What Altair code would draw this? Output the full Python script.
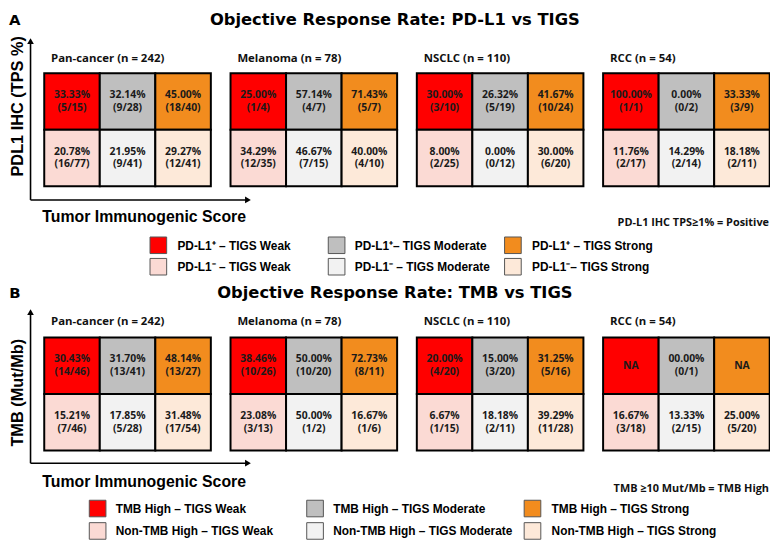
import altair as alt
import pandas as pd

# ---------------- data ----------------
cancers = ["Pan-cancer (n = 242)", "Melanoma (n = 78)", "NSCLC (n = 110)", "RCC (n = 54)"]
tigs_levels = ["Weak", "Moderate", "Strong"]

# Panel A: PD-L1 vs TIGS  (order: per cancer -> Weak, Moderate, Strong)
a_pos_rate = ["33.33%", "32.14%", "45.00%", "25.00%", "57.14%", "71.43%",
              "30.00%", "26.32%", "41.67%", "100.00%", "0.00%", "33.33%"]
a_pos_frac = ["(5/15)", "(9/28)", "(18/40)", "(1/4)", "(4/7)", "(5/7)",
              "(3/10)", "(5/19)", "(10/24)", "(1/1)", "(0/2)", "(3/9)"]
a_neg_rate = ["20.78%", "21.95%", "29.27%", "34.29%", "46.67%", "40.00%",
              "8.00%", "0.00%", "30.00%", "11.76%", "14.29%", "18.18%"]
a_neg_frac = ["(16/77)", "(9/41)", "(12/41)", "(12/35)", "(7/15)", "(4/10)",
              "(2/25)", "(0/12)", "(6/20)", "(2/17)", "(2/14)", "(2/11)"]

# Panel B: TMB vs TIGS
b_pos_rate = ["30.43%", "31.70%", "48.14%", "38.46%", "50.00%", "72.73%",
              "20.00%", "15.00%", "31.25%", "NA", "00.00%", "NA"]
b_pos_frac = ["(14/46)", "(13/41)", "(13/27)", "(10/26)", "(10/20)", "(8/11)",
              "(4/20)", "(3/20)", "(5/16)", "", "(0/1)", ""]
b_neg_rate = ["15.21%", "17.85%", "31.48%", "23.08%", "50.00%", "16.67%",
              "6.67%", "18.18%", "39.29%", "16.67%", "13.33%", "25.00%"]
b_neg_frac = ["(7/46)", "(5/28)", "(17/54)", "(3/13)", "(1/2)", "(1/6)",
              "(1/15)", "(2/11)", "(11/28)", "(3/18)", "(2/15)", "(5/20)"]

section_letters = ["A", "B"]
section_titles = ["Objective Response Rate: PD-L1 vs TIGS", "Objective Response Rate: TMB vs TIGS"]
y_titles = ["PDL1 IHC  (TPS %)", "TMB (Mut/Mb)"]
x_title = "Tumor Immunogenic Score"
notes = ["PD-L1 IHC TPS\u22651% = Positive", "TMB \u226510 Mut/Mb = TMB High"]
legend_a = ["PD-L1\u207a \u2013 TIGS Weak", "PD-L1\u207a\u2013 TIGS Moderate", "PD-L1\u207a \u2013 TIGS Strong",
            "PD-L1\u207b \u2013 TIGS Weak", "PD-L1\u207b  \u2013 TIGS Moderate", "PD-L1\u207b\u2013 TIGS Strong"]
legend_b = ["TMB High \u2013 TIGS Weak", "TMB High \u2013 TIGS Moderate", "TMB High \u2013 TIGS Strong",
            "Non-TMB High \u2013 TIGS Weak", "Non-TMB High \u2013 TIGS Moderate", "Non-TMB High \u2013 TIGS Strong"]
high_colors = ["#FF0000", "#BFBFBF", "#F28C1E"]
low_colors = ["#FBDAD4", "#F2F2F2", "#FDE9D9"]

# ---------------- layout (reference pixel space) ----------------
W, H = 770, 535
RW, RH = 778, 543
GX0, PITCH, CW, CH = 37, 190.2, 56.7, 58
sections = [
    dict(grid_top=64, title_y=9, ptitle_y=49, tip=28, base=194, ylab=170, xt_y=212, note_y=218,
         sw_x=[145, 327, 507], tx_x=[173, 354, 535], lg_y=[232, 254],
         data=(a_pos_rate, a_pos_frac, a_neg_rate, a_neg_frac), legend=legend_a),
    dict(grid_top=335, title_y=290, ptitle_y=319, tip=306, base=464, ylab=447, xt_y=483, note_y=490,
         sw_x=[83, 305, 527], tx_x=[110, 332, 555], lg_y=[502, 525],
         data=(b_pos_rate, b_pos_frac, b_neg_rate, b_neg_frac), legend=legend_b),
]

cells, ctext, ptitles, stitles, letters, ylabs, xlabs, nts = [], [], [], [], [], [], [], []
rules, heads, swatches, ltext = [], [], [], []
for s, sec in enumerate(sections):
    pr, pf, nr, nf = sec["data"]
    for k, cname in enumerate(cancers):
        x0 = GX0 + PITCH * k
        ptitles.append(dict(x=x0 + 7, y=sec["ptitle_y"], t=cname))
        for j, lvl in enumerate(tigs_levels):
            idx = 3 * k + j
            for r, (rates, fracs, cols) in enumerate([(pr, pf, high_colors), (nr, nf, low_colors)]):
                x = x0 + CW * j
                y = sec["grid_top"] + CH * r
                cells.append(dict(x=x, x2=x + CW, y=y, y2=y + CH, c=cols[j]))
                cx, cy = x + CW / 2, y + CH / 2
                if fracs[idx]:
                    ctext.append(dict(x=cx, y=cy - 6.5, t=rates[idx]))
                    ctext.append(dict(x=cx, y=cy + 6.5, t=fracs[idx]))
                else:
                    ctext.append(dict(x=cx, y=cy, t=rates[idx]))
    stitles.append(dict(x=395, y=sec["title_y"], t=section_titles[s]))
    letters.append(dict(x=7, y=sec["title_y"], t=section_letters[s]))
    ylabs.append(dict(x=10, y=sec["ylab"], t=y_titles[s]))
    xlabs.append(dict(x=35, y=sec["xt_y"], t=x_title))
    nts.append(dict(x=777, y=sec["note_y"], t=notes[s]))
    rules.append(dict(x=23, x2=23, y=sec["tip"] + 4, y2=sec["base"]))
    rules.append(dict(x=23, x2=244, y=sec["base"], y2=sec["base"]))
    heads.append(dict(x=23, y=sec["tip"] + 3, shape="triangle-up"))
    heads.append(dict(x=245, y=sec["base"], shape="triangle-right"))
    for i, lab in enumerate(sec["legend"]):
        row, col = divmod(i, 3)
        sx, sy = sec["sw_x"][col], sec["lg_y"][row]
        swatches.append(dict(x=sx, x2=sx + 17, y=sy, y2=sy + 17,
                             c=(high_colors if row == 0 else low_colors)[col]))
        ltext.append(dict(x=sec["tx_x"][col], y=sy + 9, t=lab))

X = alt.Scale(domain=[0, RW], range=[0, W], nice=False, zero=False)
Y = alt.Scale(domain=[0, RH], range=[0, H], nice=False, zero=False)


def textlayer(rows, **kw):
    return alt.Chart(pd.DataFrame(rows)).mark_text(**kw).encode(
        x=alt.X("x:Q", scale=X, axis=None), y=alt.Y("y:Q", scale=Y, axis=None), text="t:N")


cell_layer = alt.Chart(pd.DataFrame(cells)).mark_rect(stroke="black", strokeWidth=2).encode(
    x=alt.X("x:Q", scale=X, axis=None), x2="x2:Q",
    y=alt.Y("y:Q", scale=Y, axis=None), y2="y2:Q",
    color=alt.Color("c:N", scale=None))

swatch_layer = alt.Chart(pd.DataFrame(swatches)).mark_rect(stroke="#555555", strokeWidth=1).encode(
    x=alt.X("x:Q", scale=X, axis=None), x2="x2:Q",
    y=alt.Y("y:Q", scale=Y, axis=None), y2="y2:Q",
    color=alt.Color("c:N", scale=None))

rule_layer = alt.Chart(pd.DataFrame(rules)).mark_rule(color="black", strokeWidth=1.6).encode(
    x=alt.X("x:Q", scale=X, axis=None), x2="x2:Q",
    y=alt.Y("y:Q", scale=Y, axis=None), y2="y2:Q")

head_layer = alt.Chart(pd.DataFrame(heads)).mark_point(filled=True, color="black", size=45, opacity=1).encode(
    x=alt.X("x:Q", scale=X, axis=None), y=alt.Y("y:Q", scale=Y, axis=None),
    shape=alt.Shape("shape:N", scale=None))

cell_text = textlayer(ctext, font="Open Sans", fontWeight="bold", fontSize=10.5, color="#1a1a1a",
                      align="center", baseline="middle")
ptitle_text = textlayer(ptitles, font="Open Sans", fontWeight="bold", fontSize=11.5, color="#111111",
                        align="left", baseline="middle")
stitle_text = textlayer(stitles, font="DejaVu Sans", fontWeight="bold", fontSize=16.5, color="#000000",
                        align="center", baseline="middle")
letter_text = textlayer(letters, font="DejaVu Sans", fontWeight="bold", fontSize=15, color="#000000",
                        align="center", baseline="middle")
ylab_text = textlayer(ylabs, font="Liberation Sans", fontWeight="bold", fontSize=16.5, color="#000000",
                      align="left", baseline="middle", angle=270)
xlab_text = textlayer(xlabs, font="Liberation Sans", fontWeight="bold", fontSize=16, color="#000000",
                      align="left", baseline="middle")
note_text = textlayer(nts, font="Open Sans", fontWeight="bold", fontSize=11, color="#111111",
                      align="right", baseline="middle")
legend_text = textlayer(ltext, font="Liberation Sans", fontWeight="bold", fontSize=12, color="#000000",
                        align="left", baseline="middle")

chart = alt.layer(
    cell_layer, swatch_layer, rule_layer, head_layer,
    cell_text, ptitle_text, stitle_text, letter_text, ylab_text, xlab_text, note_text, legend_text,
).properties(
    width=W, height=H, padding=0, autosize=alt.AutoSizeParams(type="none"), background="white"
).configure_view(strokeWidth=0)

chart.save("out.html", embed_options={"renderer": "svg", "actions": False})
